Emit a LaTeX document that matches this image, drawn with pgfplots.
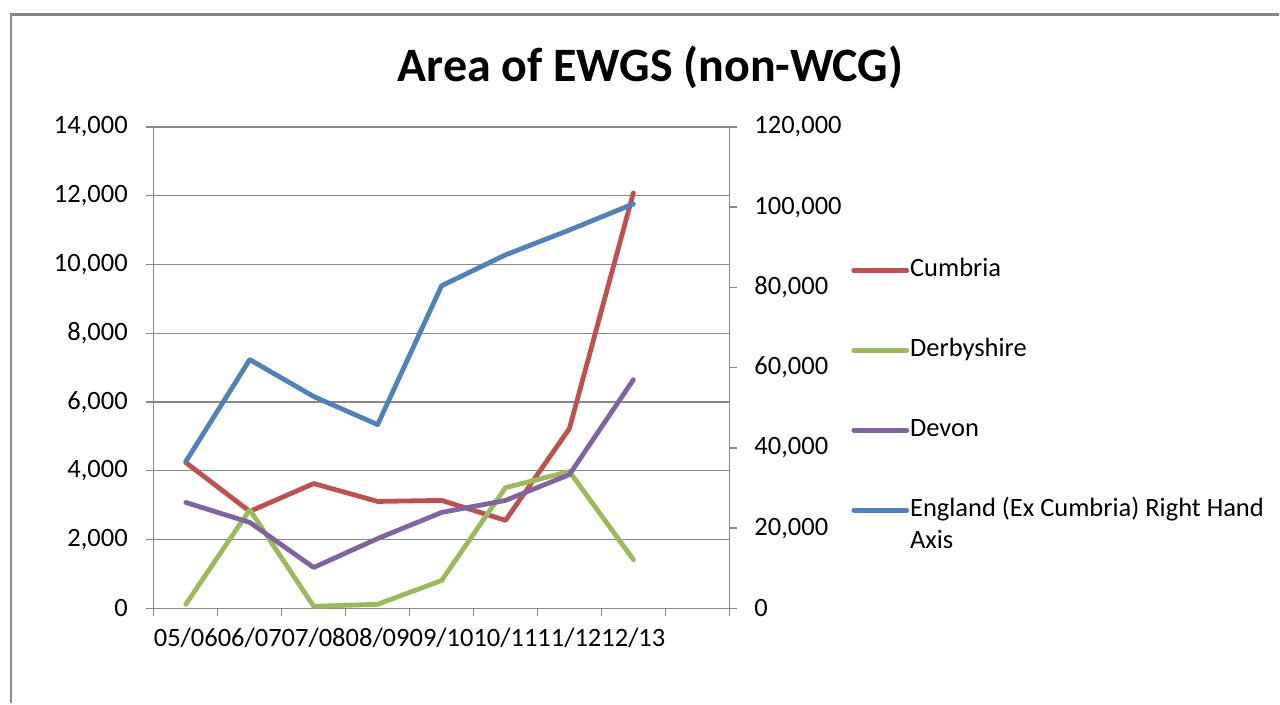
\documentclass[border=0pt]{standalone}
\usepackage{fontspec}
\setmainfont{Carlito}
\usepackage{pgfplots}
\pgfplotsset{compat=1.18}
\definecolor{cR}{HTML}{C0504D}
\definecolor{cG}{HTML}{9BBB59}
\definecolor{cP}{HTML}{8064A2}
\definecolor{cB}{HTML}{4F81BD}
\definecolor{cGrid}{HTML}{888888}
\newcommand{\tfont}{\fontsize{26.5bp}{32bp}\selectfont}
\pgfplotsset{
  common/.style={
    at={(154bp,95bp)}, anchor=south west, scale only axis,
    width=576bp, height=482bp,
    xmin=-0.5, xmax=8.5, ymin=0,
    tick align=outside, major tick length=8bp, minor tick length=8bp,
    tick style={cGrid, line width=1.3bp},
    axis line style={cGrid, line width=1.3bp},
    ticklabel style={font=\tfont, text=black},
    scaled y ticks=false,
    /pgf/number format/.cd, assume math mode=true, 1000 sep={,}, fixed,
    /pgfplots/.cd,
    clip=false,
  },
  dl/.style={line width=4.8bp, line join=round, line cap=round, mark=none},
}
\begin{document}
\begin{tikzpicture}
\path (0bp,0bp) rectangle (1280bp,704bp);
\draw[color=cGrid, line width=2.5bp] (11bp,0bp) -- (11bp,689.5bp) -- (1280bp,689.5bp);
\node[font=\fontsize{48bp}{56bp}\selectfont\bfseries, anchor=base] at (651bp,622bp) {Area of EWGS (non-WCG)};
\begin{axis}[common,
  ymax=14000, ytick={0,2000,...,14000},
  axis x line*=bottom, axis y line*=left,
  xtick={0,...,7},
  xticklabels={05/06,06/07,07/08,08/09,09/10,10/11,11/12,12/13},
  minor xtick={-0.5,0.5,...,8.5},
  major x tick style={draw=none},
  ymajorgrids, grid style={cGrid, line width=1.3bp},
  yticklabel style={inner sep=0pt, xshift=-18bp},
  xticklabel style={inner sep=0pt, yshift=-12bp},
]
\addplot[dl, cR] coordinates {(0,4240) (1,2820) (2,3630) (3,3110) (4,3140) (5,2560) (6,5230) (7,12080)};
\addplot[dl, cG] coordinates {(0,120) (1,2870) (2,60) (3,120) (4,810) (5,3510) (6,3980) (7,1420)};
\addplot[dl, cP] coordinates {(0,3080) (1,2500) (2,1190) (3,2030) (4,2790) (5,3140) (6,3890) (7,6650)};
\end{axis}
\begin{axis}[common,
  ymax=120000, ytick={0,20000,...,120000},
  axis y line*=right, axis x line=none,
  yticklabel style={inner sep=0pt, xshift=17bp},
  legend style={at={(1.2118,0.7303)}, anchor=north west, draw=none, fill=none,
    inner sep=0pt, row sep=53bp, column sep=0bp, font=\tfont,
    nodes={inner sep=1bp, text height=19bp, text depth=6bp}},
  legend cell align=left,
  legend image code/.code={\draw[#1, line cap=round] (0bp,0bp) -- (53bp,0bp);},
]
\addlegendimage{dl, cR}\addlegendentry{Cumbria}
\addlegendimage{dl, cG}\addlegendentry{Derbyshire}
\addlegendimage{dl, cP}\addlegendentry{Devon}
\addplot[dl, cB] coordinates {(0,36600) (1,62000) (2,52800) (3,45800) (4,80400) (5,88100) (6,94300) (7,100800)};
\addlegendentry{\begin{tabular}[t]{@{}l@{}}England (Ex Cumbria) Right Hand\\Axis\end{tabular}}
\end{axis}
\end{tikzpicture}
\end{document}
